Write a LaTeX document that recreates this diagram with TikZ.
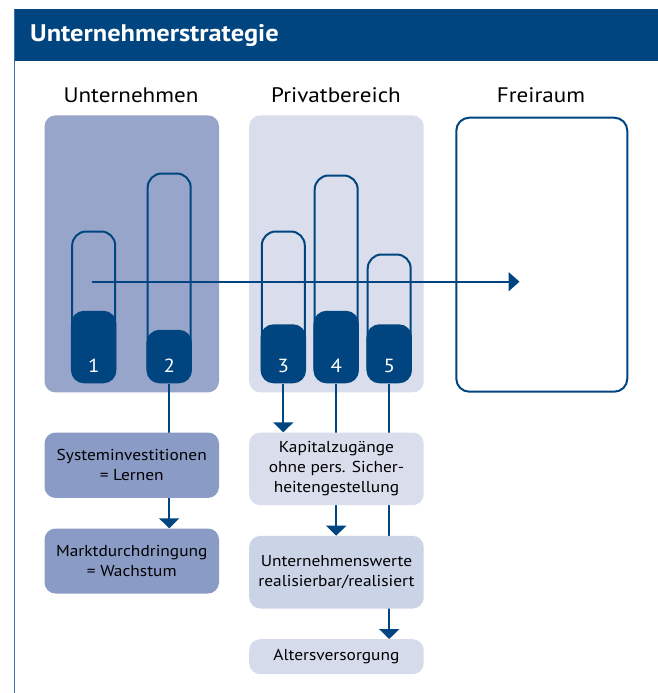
\documentclass[tikz,border=0pt]{standalone}
\usepackage{fontspec}
\setmainfont{PT Sans}[FakeStretch=1.1]
\usetikzlibrary{arrows.meta}
\definecolor{dblue}{HTML}{00457F}
\definecolor{edgeblue}{HTML}{3E6FA8}
\definecolor{panelA}{HTML}{97A5CA}
\definecolor{boxA}{HTML}{8A9CC6}
\definecolor{panelB}{HTML}{D9DDEC}
\definecolor{boxB}{HTML}{CBD3E7}
\definecolor{boxC}{HTML}{D6DBEB}
\pgfdeclarelayer{bottomlayer}
\pgfdeclarelayer{connlayer}
\pgfsetlayers{bottomlayer,connlayer,main}
\tikzset{
  panel/.style={rounded corners=11pt, inner sep=0pt, anchor=north west},
  tubeout/.style={draw=dblue, line width=2pt, rounded corners=14pt, inner sep=0pt, minimum width=43pt, anchor=south},
  tubefill/.style={fill=dblue, rounded corners=13pt, inner sep=0pt, minimum width=45.5pt, anchor=south},
  num/.style={text=white, font=\fontsize{19}{19}\selectfont, inner sep=0pt},
  head/.style={font=\fontsize{21}{24}\selectfont, inner sep=0pt},
  lbox/.style={rounded corners=11pt, inner sep=0pt, minimum width=174.5pt, align=center, font=\fontsize{15.8}{20}\selectfont, anchor=north west},
  conn/.style={draw=dblue, line width=2pt},
  arr/.style={conn, -{Triangle[length=10pt,width=20pt]}}
}
\begin{document}
\begin{tikzpicture}[x=1pt,y=-1pt]
\useasboundingbox (0,0) rectangle (658,693);
\begin{pgfonlayer}{bottomlayer}
% frame
\fill[dblue] (14,9) rectangle (658,61);
\draw[edgeblue, line width=1.2pt] (14.6,9) -- (14.6,693);
\node[anchor=west, text=white, font=\fontsize{24}{26}\selectfont\bfseries, inner sep=0pt] (title) at (30,36) {Unternehmerstrategie};
% headings
\node[head] (hU) at (131,95) {Unternehmen};
\node[head] (hP) at (336,95) {Privatbereich};
\node[head] (hF) at (541,95) {Freiraum};
% panels
\node[panel, fill=panelA, minimum width=174.5pt, minimum height=277pt] (pU) at (44.3,115.2) {};
\node[panel, fill=panelB, minimum width=174.5pt, minimum height=277pt] (pP) at (249,115.2) {};
\node[panel, draw=dblue, line width=2pt, rounded corners=13pt, fill=white, minimum width=171pt, minimum height=274pt] (pF) at (455.3,116.7) {};
% tubes outlines
\node[tubeout, minimum height=150pt] (o1) at (93.7,382.5) {};
\node[tubeout, minimum height=208pt] (o2) at (169.2,382.5) {};
\node[tubeout, minimum height=150pt] (o3) at (283.3,382.5) {};
\node[tubeout, minimum height=206pt] (o4) at (336.2,382.5) {};
\node[tubeout, minimum height=127pt] (o5) at (389.2,382.5) {};
% horizontal arrow
\coordinate (astart) at (92.3,281.7);
\coordinate (aend) at (519.5,281.7);
\draw[conn, -{Triangle[length=11pt,width=19pt]}] (astart) -- (aend);
% tube fills
\node[tubefill, minimum height=72.5pt] (d1) at (93.7,383.5) {};
\node[tubefill, minimum height=53.5pt] (d2) at (169.2,383.5) {};
\node[tubefill, minimum height=59pt] (d3) at (283.3,383.5) {};
\node[tubefill, minimum height=72.5pt] (d4) at (336.2,383.5) {};
\node[tubefill, minimum height=59pt] (d5) at (389.2,383.5) {};
\node[num] (n1) at (93.7,366) {1};
\node[num] (n2) at (169.2,366) {2};
\node[num] (n3) at (283.3,366) {3};
\node[num] (n4) at (336.2,366) {4};
\node[num] (n5) at (389.2,366) {5};
\end{pgfonlayer}
% lower boxes
\node[lbox, fill=boxA, minimum height=65.4pt] (sys) at (44.3,432.3) {Systeminvestitionen\\= Lernen};
\node[lbox, fill=boxA, minimum height=65pt] (mkt) at (44.3,528.3) {Marktdurchdringung\\= Wachstum};
\node[lbox, fill=panelB, minimum height=72.7pt] (kap) at (249,432.3) {Kapitalzugänge\\ohne pers. Sicher-\\heitengestellung};
\node[lbox, fill=boxB, minimum height=72.6pt] (uw) at (249,535.7) {Unternehmenswerte\\realisierbar/realisiert};
\node[lbox, fill=boxC, minimum height=35pt] (alt) at (249,639) {Altersversorgung};
% connectors (behind boxes)
\begin{pgfonlayer}{connlayer}
\draw[arr] (d2.south) -- (d2.south |- mkt.north);
\draw[arr] (d3.south) -- (d3.south |- kap.north);
\draw[arr] (d4.south) -- (d4.south |- uw.north);
\draw[arr] (d5.south) -- (d5.south |- alt.north);
\end{pgfonlayer}
\end{tikzpicture}
\end{document}
